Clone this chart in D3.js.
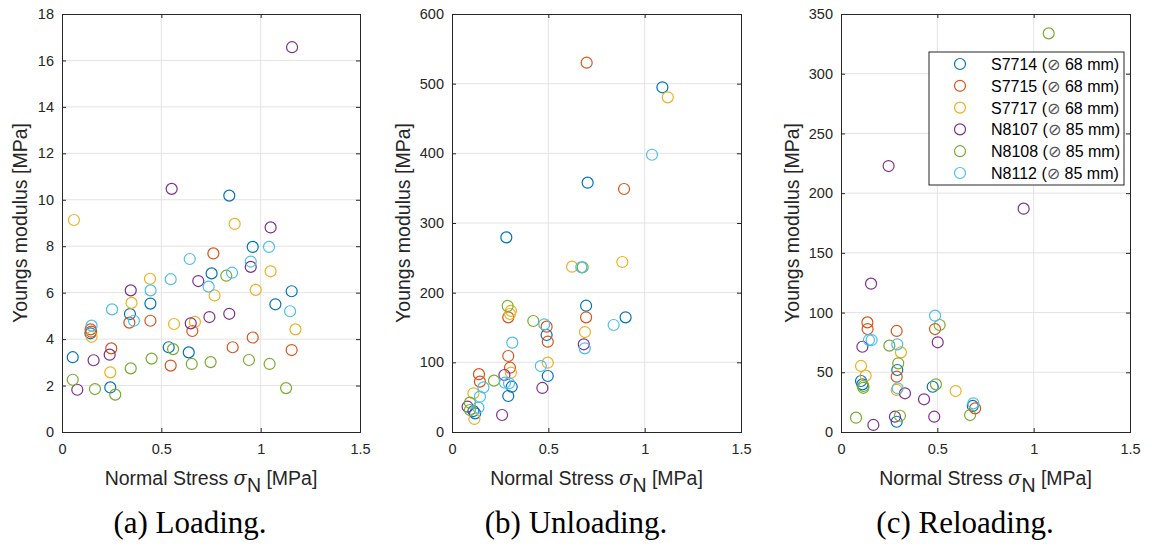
<!DOCTYPE html>
<html><head><meta charset="utf-8">
<script src="https://cdn.jsdelivr.net/npm/d3@7"></script>
<style>body{margin:0;background:#fff}</style>
</head><body><svg id="chart" width="1152" height="549"></svg>
<script>
// ---- series metadata ----
const seriesNames = ["S7714", "S7715", "S7717", "N8107", "N8108", "N8112"];
const seriesDiam = ["68", "68", "68", "85", "85", "85"];
const seriesColors = ["#0072BD", "#D95319", "#EDB120", "#7E2F8E", "#77AC30", "#4DBEEE"];
const xTicks = [0, 0.5, 1, 1.5];
const loadingYTicks = [0, 2, 4, 6, 8, 10, 12, 14, 16, 18];
const unloadingYTicks = [0, 100, 200, 300, 400, 500, 600];
const reloadingYTicks = [0, 50, 100, 150, 200, 250, 300, 350];
const captions = ["(a) Loading.", "(b) Unloading.", "(c) Reloading."];

// ---- (a) Loading: [normal stress MPa, Youngs modulus MPa] ----
const loadS7714 = [[0.054,3.22],[0.143,4.25],[0.243,1.92],[0.342,5.08],[0.445,5.53],[0.537,3.65],[0.638,3.43],[0.753,6.83],[0.842,10.18],[0.96,7.97],[1.074,5.50],[1.156,6.06]];
const loadS7715 = [[0.144,4.42],[0.147,4.32],[0.248,3.60],[0.339,4.71],[0.445,4.79],[0.547,2.86],[0.656,4.35],[0.762,7.69],[0.859,3.65],[0.96,4.07],[1.156,3.53]];
const loadS7717 = [[0.06,9.13],[0.149,4.10],[0.243,2.57],[0.35,5.56],[0.443,6.60],[0.564,4.65],[0.669,4.74],[0.768,5.88],[0.869,8.96],[0.975,6.12],[1.05,6.92],[1.175,4.42]];
const loadN8107 = [[0.077,1.82],[0.159,3.09],[0.24,3.33],[0.346,6.10],[0.552,10.47],[0.648,4.68],[0.686,6.50],[0.742,4.95],[0.842,5.09],[0.95,7.11],[1.05,8.81],[1.158,16.57]];
const loadN8108 = [[0.054,2.25],[0.166,1.85],[0.268,1.61],[0.346,2.74],[0.451,3.16],[0.559,3.57],[0.653,2.93],[0.748,3.01],[0.827,6.73],[0.941,3.10],[1.045,2.93],[1.128,1.89]];
const loadN8112 = [[0.149,4.58],[0.252,5.28],[0.362,4.79],[0.446,6.10],[0.547,6.58],[0.643,7.45],[0.738,6.26],[0.856,6.86],[0.95,7.34],[1.042,7.97],[1.148,5.20]];

// ---- (b) Unloading ----
const unlS7714 = [[0.111,30.1],[0.12,26.8],[0.282,279.4],[0.292,51.7],[0.31,65],[0.491,139.2],[0.497,80.4],[0.696,181.3],[0.704,357.9],[0.901,164.6],[1.092,494.8]];
const unlS7715 = [[0.140,83],[0.145,72.3],[0.292,164.6],[0.292,109.1],[0.301,92.3],[0.491,151.2],[0.497,129.6],[0.696,164.6],[0.699,530.1],[0.893,348.8]];
const unlS7717 = [[0.111,55.5],[0.116,18.7],[0.306,174],[0.301,169.4],[0.306,85.1],[0.497,99.5],[0.623,237.3],[0.69,143.5],[0.884,244],[1.12,480.4]];
const unlN8107 = [[0.081,36.3],[0.26,24.4],[0.272,81.8],[0.469,63.2],[0.684,125.9]];
const unlN8108 = [[0.093,42.1],[0.093,31.6],[0.218,73.7],[0.289,180.9],[0.422,159.3],[0.678,236.4]];
const unlN8112 = [[0.137,34.9],[0.145,50.7],[0.163,64],[0.275,70.8],[0.296,69.9],[0.313,128.2],[0.461,94.7],[0.479,154.6],[0.671,236.4],[0.689,120.1],[0.839,153.6],[1.038,398]];

// ---- (c) Reloading ----
const relS7714 = [[0.104,42.7],[0.111,39.9],[0.289,8.6],[0.292,51.9],[0.476,37.9],[0.684,21.8]];
const relS7715 = [[0.137,91.8],[0.138,86.2],[0.289,84.6],[0.289,46.3],[0.488,86.2],[0.696,19.8]];
const relS7717 = [[0.104,55.3],[0.128,47.2],[0.289,35.2],[0.311,66.7],[0.595,34.3]];
const relN8107 = [[0.111,71.4],[0.156,124.2],[0.168,5.9],[0.247,222.7],[0.28,12.8],[0.332,32.4],[0.431,27.4],[0.484,12.8],[0.502,75.1],[0.948,187]];
const relN8108 = [[0.078,12],[0.116,38.5],[0.116,37],[0.251,72.3],[0.297,57.5],[0.306,13.6],[0.493,39.9],[0.512,89.6],[0.67,14.2],[1.078,333.8]];
const relN8112 = [[0.145,77],[0.159,77],[0.292,73.4],[0.294,36.6],[0.488,97.4],[0.687,24]];

const panels = [
  {series:[loadS7714,loadS7715,loadS7717,loadN8107,loadN8108,loadN8112], yTicks:loadingYTicks, left:62, right:360, ylabX:20, capX:190},
  {series:[unlS7714,unlS7715,unlS7717,unlN8107,unlN8108,unlN8112], yTicks:unloadingYTicks, left:452, right:741, ylabX:403, capX:576},
  {series:[relS7714,relS7715,relS7717,relN8107,relN8108,relN8112], yTicks:reloadingYTicks, left:841, right:1130, ylabX:792, capX:965, legend:true}
];

const plotTop = 14, plotBottom = 432;
const svg = d3.select("#chart");
svg.append("rect").attr("width",1152).attr("height",549).attr("fill","#fff");
const font = "Liberation Sans, Arial, sans-serif";
const axisCol = "#262626";

panels.forEach((p, pi) => {
  const x = d3.scaleLinear().domain([0,1.5]).range([p.left,p.right]);
  const y = d3.scaleLinear().domain([0, d3.max(p.yTicks)]).range([plotBottom, plotTop]);
  const g = svg.append("g");
  // grid
  g.append("g").selectAll("line").data(xTicks.slice(1,-1)).join("line")
    .attr("x1",d=>x(d)).attr("x2",d=>x(d)).attr("y1",plotTop).attr("y2",plotBottom)
    .attr("stroke","#e3e3e3").attr("stroke-width",1);
  g.append("g").selectAll("line").data(p.yTicks.slice(1,-1)).join("line")
    .attr("y1",d=>y(d)).attr("y2",d=>y(d)).attr("x1",p.left).attr("x2",p.right)
    .attr("stroke","#e3e3e3").attr("stroke-width",1);
  // axes
  const xa = g.append("g").attr("transform",`translate(0,${plotBottom})`)
    .call(d3.axisBottom(x).tickValues(xTicks).tickSize(-4).tickPadding(12).tickFormat(d3.format("")));
  const xt = g.append("g").attr("transform",`translate(0,${plotTop})`)
    .call(d3.axisTop(x).tickValues(xTicks).tickSize(-4).tickFormat(""));
  const ya = g.append("g").attr("transform",`translate(${p.left},0)`)
    .call(d3.axisLeft(y).tickValues(p.yTicks).tickSize(-4).tickPadding(8).tickFormat(d3.format("")));
  const yr = g.append("g").attr("transform",`translate(${p.right},0)`)
    .call(d3.axisRight(y).tickValues(p.yTicks).tickSize(-4).tickFormat(""));
  [xa,xt,ya,yr].forEach(a => {
    a.selectAll("path").attr("stroke",axisCol).attr("stroke-width",1);
    a.selectAll("line").attr("stroke",axisCol);
    a.selectAll("text").attr("fill",axisCol).style("font-family",font).style("font-size","14.5px");
  });
  // points
  p.series.forEach((s, si) => {
    g.append("g").selectAll("circle").data(s).join("circle")
      .attr("cx",d=>x(d[0])).attr("cy",d=>y(d[1])).attr("r",5.5)
      .attr("fill","none").attr("stroke",seriesColors[si]).attr("stroke-width",1.2);
  });
  // y label
  g.append("text").attr("transform",`translate(${p.ylabX},${(plotTop+plotBottom)/2}) rotate(-90)`)
    .attr("text-anchor","middle").attr("dominant-baseline","central")
    .style("font-family",font).style("font-size","19.5px").attr("fill",axisCol)
    .text("Youngs modulus [MPa]");
  // x label
  const xl = g.append("text").attr("x",(p.left+p.right)/2).attr("y",485)
    .attr("text-anchor","middle").style("font-family",font).style("font-size","19.5px").attr("fill",axisCol);
  xl.append("tspan").text("Normal Stress  ");
  xl.append("tspan").style("font-style","italic").style("font-family","DejaVu Serif, serif").text("σ");
  xl.append("tspan").attr("dy",7).text("N");
  xl.append("tspan").attr("dy",-7).text(" [MPa]");
  // caption
  svg.append("text").attr("x",p.capX).attr("y",533).attr("text-anchor","middle")
    .style("font-family","Liberation Serif, Times New Roman, serif").style("font-size","31px").attr("fill","#000")
    .text(captions[pi]);

  if (p.legend) {
    const lg = g.append("g");
    lg.append("rect").attr("x",929).attr("y",52).attr("width",195).attr("height",133)
      .attr("fill","#fff").attr("stroke",axisCol).attr("stroke-width",1);
    seriesNames.forEach((n, i) => {
      const yy = 64 + i*21.8;
      lg.append("circle").attr("cx",960).attr("cy",yy).attr("r",5.5)
        .attr("fill","none").attr("stroke",seriesColors[i]).attr("stroke-width",1.2);
      const t = lg.append("text").attr("x",991).attr("y",yy).attr("dominant-baseline","central")
        .style("font-family",font).style("font-size","16px").attr("fill","#000");
      t.append("tspan").text(n + " (");
      t.append("tspan").style("font-family","DejaVu Sans, sans-serif").attr("fill","#555").text("⊘");
      t.append("tspan").text(" " + seriesDiam[i] + " mm)");
    });
  }
});
</script></body></html>
